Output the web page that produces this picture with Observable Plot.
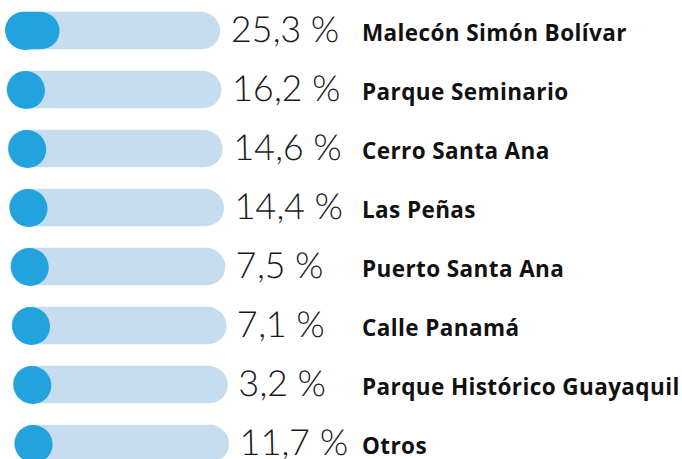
<!DOCTYPE html>
<html>
<head>
<meta charset="utf-8">
<script src="https://cdn.jsdelivr.net/npm/d3@7"></script>
<script src="https://cdn.jsdelivr.net/npm/@observablehq/plot@0.6"></script>
<style>
  html, body { margin: 0; padding: 0; background: #fff; }
  #chart { width: 682px; height: 459px; overflow: hidden; }
</style>
</head>
<body>
<div id="chart"></div>
<script>
const places = ["Malecón Simón Bolívar", "Parque Seminario", "Cerro Santa Ana", "Las Peñas", "Puerto Santa Ana", "Calle Panamá", "Parque Histórico Guayaquil", "Otros"];
const shares = [25.3, 16.2, 14.6, 14.4, 7.5, 7.1, 3.2, 11.7];
const shareLabels = ["25,3 %", "16,2 %", "14,6 %", "14,4 %", "7,5 %", "7,1 %", "3,2 %", "11,7 %"];

const data = places.map((p, i) => ({place: p, share: shares[i], label: shareLabels[i], total: 100}));

const light = "#c6ddf0";
const dark = "#22a3dd";
const R = 19;
const barPx = 215;
const capShare = (2 * R) / barPx * 100; // share whose bar is no longer than the round cap

const chart = Plot.plot({
  width: 682,
  height: 459,
  margin: 0,
  x: {domain: [0, 100], range: [4.5, 4.5 + barPx], axis: null},
  y: {type: "band", domain: places, range: [-2, 475], padding: 0, axis: null},
  marks: [
    Plot.barX(data, {x1: 0, x2: "total", y: "place", fill: light, rx: R, insetTop: 10.8, insetBottom: 10.8}),
    Plot.barX(data, {x1: 0, x2: "share", y: "place", fill: dark, rx: R, insetTop: 10.8, insetBottom: 10.8,
      filter: d => d.share > capShare}),
    Plot.dot(data, {x: () => 0, y: "place", r: R, dx: R, fill: dark, stroke: null}),
    Plot.text(data, {x: "total", y: "place", text: "label", textAnchor: "start", dx: 10, dy: -1,
      fontSize: 36, fontWeight: 300, fill: "#1a1a1a", fontFamily: "Lato, 'Open Sans', sans-serif"}),
    Plot.text(data, {x: "total", y: "place", text: "place", textAnchor: "start", dx: 142, dy: 3,
      fontSize: 22.5, fontWeight: 700, fill: "#111", fontFamily: "'Open Sans', Lato, sans-serif"})
  ]
});

// the reference's bars drift slightly to the right toward the bottom
const groups = chart.querySelectorAll(":scope > g");
for (let i = 0; i < 4 && i < groups.length; i++) {
  const g = groups[i];
  g.setAttribute("transform", "skewX(1.24) " + (g.getAttribute("transform") || ""));
}
if (groups[4]) groups[4].style.letterSpacing = "0.4px";
document.getElementById("chart").appendChild(chart);
</script>
</body>
</html>
